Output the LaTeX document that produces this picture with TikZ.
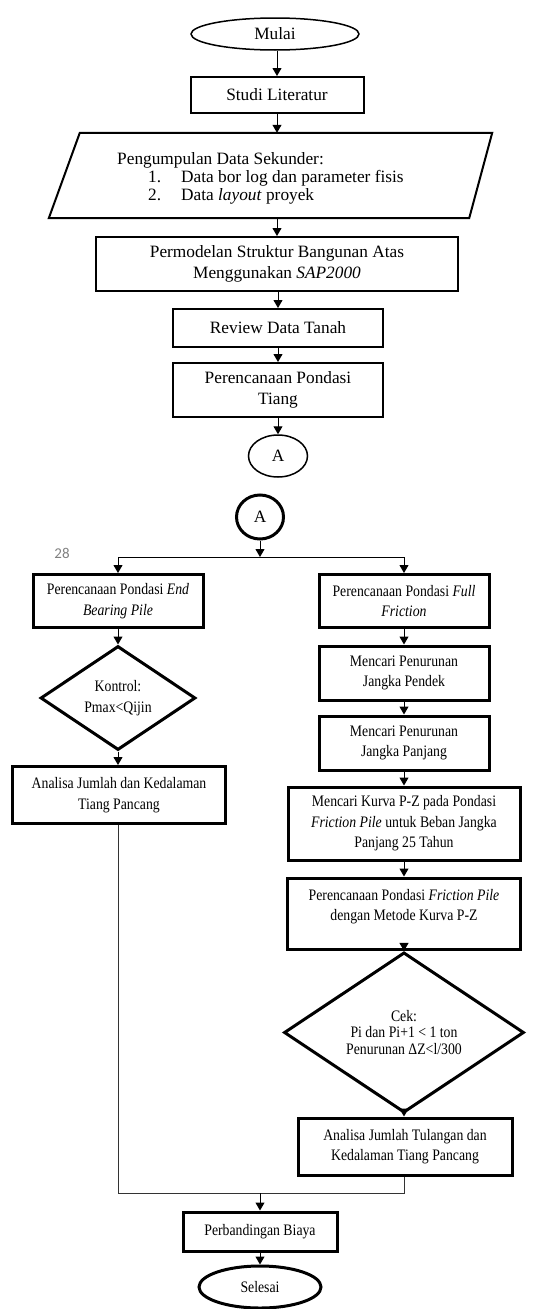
\documentclass[tikz,border=0pt]{standalone}
\usepackage{fontspec}
\setmainfont{Liberation Serif}
\newfontfamily\cond{Liberation Serif}[FakeStretch=0.86]
\newfontfamily\calib{Carlito}
\usetikzlibrary{arrows.meta,shapes.geometric}
\begin{document}
\begin{tikzpicture}[x=1pt,y=-1pt,
  topfont/.style={font=\fontsize{17.3}{21}\selectfont},
  botfont/.style={font=\cond\fontsize{16}{20.5}\selectfont},
  tbox/.style={draw,line width=2pt,align=center,inner sep=0pt,topfont},
  bbox/.style={draw,line width=3pt,align=center,inner sep=0pt,botfont},
  arr/.style={line width=1pt,-{Triangle[length=8pt,width=9pt]}},
  plain/.style={line width=1pt},
]
\useasboundingbox (0,0) rectangle (550,1309);
% top part
\node[ellipse,draw,line width=1.5pt,minimum width=168pt,minimum height=32pt,inner sep=0pt,topfont] (mulai) at (275,34) {Mulai};
\node[tbox,minimum width=173pt,minimum height=36pt] (studi) at (277,95) {Studi Literatur};
\node[minimum width=443pt,minimum height=85pt,inner sep=0pt] (pd) at (270.5,175.5) {};
\draw[line width=2pt] ([xshift=31pt]pd.north west) -- (pd.north east) -- ([xshift=-23pt]pd.south east) -- (pd.south west) -- cycle;
\node[anchor=west,inner sep=0pt,font=\fontsize{17.3}{18.2}\selectfont] (pdtext) at (117,179)
  {\begin{tabular}{@{}l@{}}Pengumpulan Data Sekunder:\\
   \hspace{31pt}\makebox[33pt][l]{1.}Data bor log dan parameter fisis\\
   \hspace{31pt}\makebox[33pt][l]{2.}Data \textit{layout} proyek\end{tabular}};
\node[tbox,minimum width=362pt,minimum height=54pt] (perm) at (277,264) {Permodelan Struktur Bangunan Atas\\Menggunakan \textit{SAP2000}};
\node[tbox,minimum width=210pt,minimum height=38pt] (review) at (278,328) {Review Data Tanah};
\node[tbox,minimum width=210pt,minimum height=54pt] (pt) at (278,390) {Perencanaan Pondasi\\Tiang};
\node[ellipse,draw,line width=1.5pt,minimum width=59pt,minimum height=42pt,inner sep=0pt,topfont] (a1) at (278,456) {A};
\draw[arr] (mulai.south -| studi.north) -- (studi.north);
\draw[arr] (studi.south) -- (studi.south |- pd.north);
\draw[arr] (studi.south |- pd.south) -- (studi.south |- perm.north);
\draw[arr] (review.north |- perm.south) -- (review.north);
\draw[arr] (review.south) -- (pt.north);
\draw[arr] (pt.south) -- (a1.north);
% bottom part
\node[ellipse,draw,line width=3pt,minimum width=47pt,minimum height=44pt,inner sep=0pt,topfont] (a2) at (260,517) {A};
\node[font=\calib\fontsize{15}{15}\selectfont,text=black!50,inner sep=0pt] (pg) at (62,553) {28};
\coordinate (br) at (260,557);
\node[bbox,minimum width=170pt,minimum height=53pt] (eb) at (118,601) {Perencanaan Pondasi \textit{End}\\\textit{Bearing Pile}};
\node[bbox,minimum width=170pt,minimum height=53pt] (ff) at (404,601) {Perencanaan Pondasi \textit{Full}\\\textit{Friction}};
\node[diamond,draw,line width=3pt,minimum width=155pt,minimum height=104pt,inner sep=0pt,align=center,botfont] (kontrol) at (118,698) {Kontrol:\\Pmax<Qijin};
\node[bbox,minimum width=213pt,minimum height=57pt] (an1) at (119,795) {Analisa Jumlah dan Kedalaman\\Tiang Pancang};
\node[bbox,minimum width=170pt,minimum height=54pt] (jp) at (404,673) {Mencari Penurunan\\Jangka Pendek};
\node[bbox,minimum width=170pt,minimum height=54pt] (jpj) at (404,743) {Mencari Penurunan\\Jangka Panjang};
\node[bbox,minimum width=232pt,minimum height=73pt] (kurva) at (404,823.5) {Mencari Kurva P-Z pada Pondasi\\\textit{Friction Pile} untuk Beban Jangka\\Panjang 25 Tahun};
\node[bbox,minimum width=233pt,minimum height=71pt] (fp) at (404,913.5) {\begin{tabular}{@{}c@{}}Perencanaan Pondasi \textit{Friction Pile}\\dengan Metode Kurva P-Z\\[14pt]\end{tabular}};
\node[diamond,draw,line width=3pt,minimum width=240pt,minimum height=133pt,inner sep=0pt,align=center,font=\cond\fontsize{16}{16.7}\selectfont] (cek) at (404,1032.5) {Cek:\\Pi dan Pi+1 < 1 ton\\Penurunan ΔZ<l/300};
\node[bbox,minimum width=214pt,minimum height=57pt] (an2) at (405,1146.5) {Analisa Jumlah Tulangan dan\\Kedalaman Tiang Pancang};
\coordinate (mg) at (260,1193);
\node[bbox,minimum width=154pt,minimum height=39pt] (biaya) at (260,1231.5) {Perbandingan Biaya};
\node[ellipse,draw,line width=3pt,minimum width=122pt,minimum height=42pt,inner sep=0pt,botfont] (selesai) at (260,1287) {Selesai};
\draw[arr] (a2.south) -- (br);
\draw[plain] (eb.north |- br) -- (ff.north |- br);
\draw[arr] (eb.north |- br) -- (eb.north);
\draw[arr] (ff.north |- br) -- (ff.north);
\draw[arr] (eb.south) -- (eb.south |- kontrol.north);
\draw[arr] (kontrol.south) -- (kontrol.south |- an1.north);
\draw[arr] (ff.south) -- (jp.north);
\draw[arr] (jp.south) -- (jpj.north);
\draw[arr] (jpj.south) -- (kurva.north);
\draw[arr] (kurva.south) -- (fp.north);
\draw[arr] (fp.south) -- (cek.north);
\draw[arr] (cek.south) -- (cek.south |- an2.north);
\draw[plain,black!80] (kontrol.south |- an1.south) -- (kontrol.south |- mg) -- (cek.south |- mg) -- (cek.south |- an2.south);
\draw[arr] (mg) -- (biaya.north);
\draw[arr] (biaya.south) -- (selesai.north);
\end{tikzpicture}
\end{document}
